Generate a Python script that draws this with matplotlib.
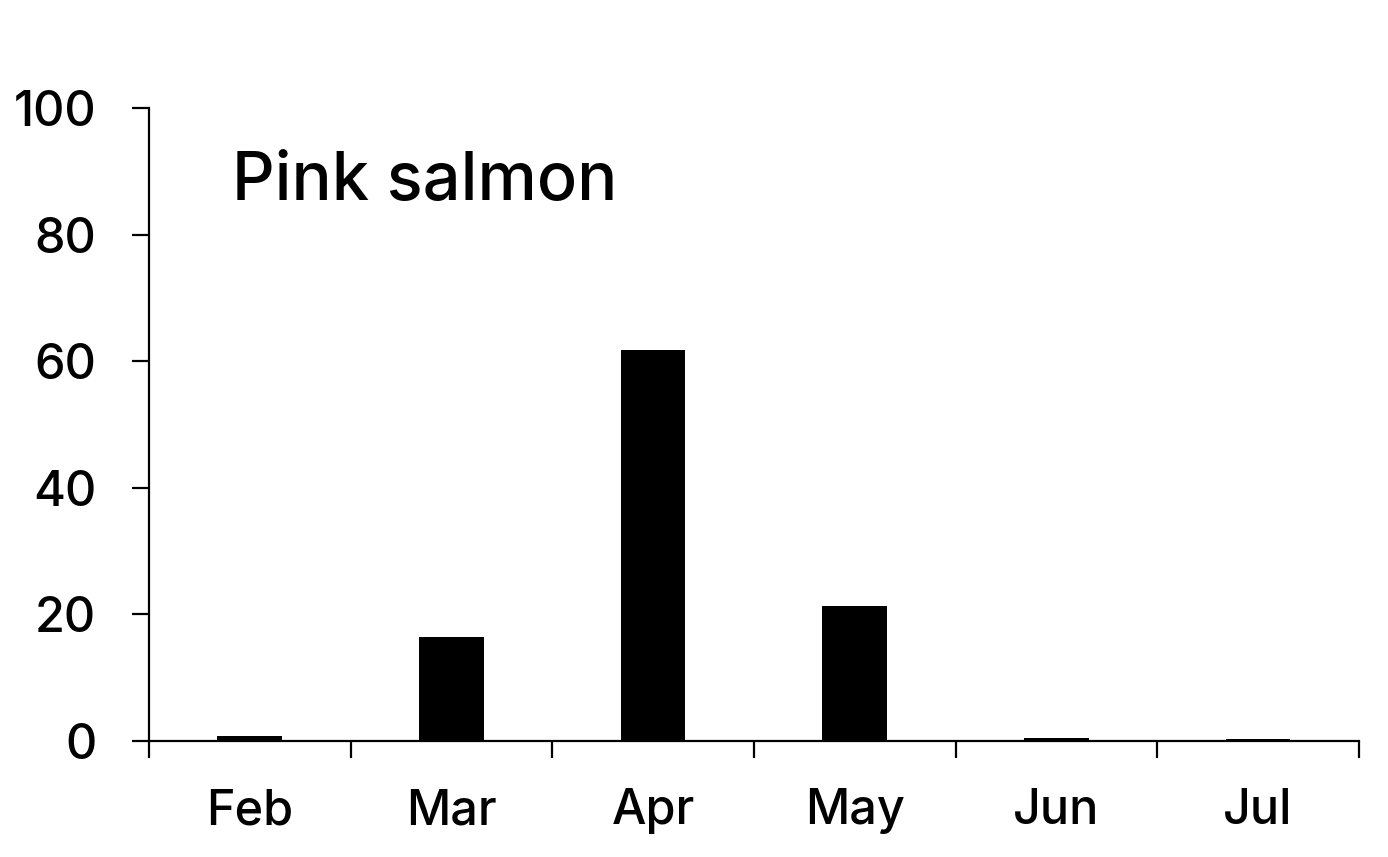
import numpy as np
import matplotlib
matplotlib.use("Agg")
import matplotlib.pyplot as plt

months = ["Feb", "Mar", "Apr", "May", "Jun", "Jul"]
percent = [0.8, 16.4, 61.8, 21.3, 0.5, 0.3]
y_ticks = [0, 20, 40, 60, 80, 100]

plt.rcParams["font.family"] = ["Inter", "DejaVu Sans"]
plt.rcParams["font.weight"] = "medium"

fig = plt.figure(figsize=(13.88, 8.57), dpi=100)
ax = fig.add_axes([0.1073, 0.1354, 0.8717, 0.7386])

x = np.arange(len(months))
ax.bar(x, percent, width=0.32, color="black")

ax.set_xlim(-0.5, len(months) - 0.5)
ax.set_ylim(0, 100)
ax.set_yticks(y_ticks)
ax.set_xticks(x)
ax.set_xticklabels(months)
ax.set_xticks(np.arange(len(months) + 1) - 0.5, minor=True)

for side in ["top", "right"]:
    ax.spines[side].set_visible(False)
for side in ["left", "bottom"]:
    ax.spines[side].set_linewidth(1.6)

ax.tick_params(axis="x", which="major", length=0, pad=34, labelsize=35)
ax.tick_params(axis="x", which="minor", length=12, width=1.6, direction="out")
ax.tick_params(axis="y", length=12, width=1.6, pad=26, labelsize=35)

ax.text(0.0686, 0.855, "Pink salmon", transform=ax.transAxes, fontsize=48,
        ha="left", va="baseline")

fig.savefig("out.png", dpi=100)
